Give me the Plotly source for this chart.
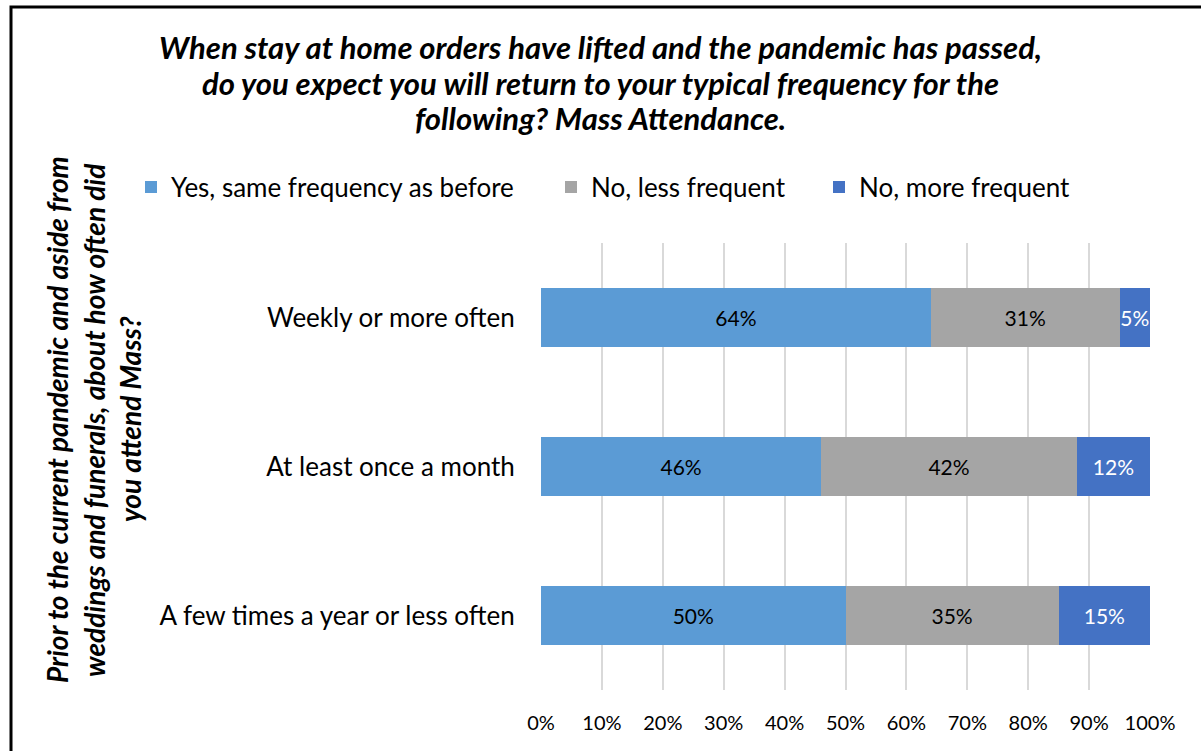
import plotly.graph_objects as go

categories = ["Weekly or more often", "At least once a month", "A few times a year or less often"]
series_names = ["Yes, same frequency as before", "No, less frequent", "No, more frequent"]
yes_same = [64, 46, 50]
no_less = [31, 42, 35]
no_more = [5, 12, 15]
values = [yes_same, no_less, no_more]
colors = ["#5B9BD5", "#A5A5A5", "#4472C4"]
label_colors = ["#000000", "#000000", "#FFFFFF"]
x_ticks = list(range(0, 101, 10))
title_lines = [
    "When stay at home orders have lifted and the pandemic has passed,",
    "do you expect you will return to your typical frequency for the",
    "following? Mass Attendance.",
]
ytitle_lines = [
    "Prior to the current pandemic and aside from",
    "weddings and funerals, about how often did",
    "you attend Mass?",
]

FONT = "Lato, Carlito, Calibri, sans-serif"

L, R, T, B = 541, 51, 243, 61
W, H = 1201, 751
pw, ph = W - L - R, H - T - B


def px_x(p):
    return (p - L) / pw


def px_y(p):
    return (H - B - p) / ph


legend_keys = ["legend", "legend2", "legend3"]
legend_x_px = [131, 551, 819]

fig = go.Figure()
for name, vals, c, lc, lk in zip(series_names, values, colors, label_colors, legend_keys):
    fig.add_trace(go.Bar(
        y=categories, x=vals, name=name, orientation="h",
        marker=dict(color=c, line=dict(width=0)),
        text=[f"{v}%" for v in vals], textposition="inside",
        insidetextanchor="middle", textangle=0,
        textfont=dict(color=lc, size=21, family=FONT),
        width=0.4, hoverinfo="skip", legend=lk, showlegend=True,
    ))

legend_common = dict(
    orientation="h", yanchor="middle", y=px_y(187), xanchor="left",
    font=dict(size=26, family=FONT, color="#000000"), itemwidth=30,
    bgcolor="rgba(0,0,0,0)", visible=True,
)

annotations = []
for line, ypx in zip(title_lines, [47, 83, 118]):
    annotations.append(dict(
        text=f"<b><i>{line}</i></b>", xref="paper", yref="paper",
        x=px_x(600), y=px_y(ypx), xanchor="center", yanchor="middle",
        showarrow=False, font=dict(size=31, family=FONT, color="#000000"),
    ))
for line, xpx in zip(ytitle_lines, [57, 94, 130]):
    annotations.append(dict(
        text=f"<b><i>{line}</i></b>", xref="paper", yref="paper",
        x=px_x(xpx), y=px_y(420), xanchor="center", yanchor="middle",
        textangle=-90, showarrow=False, font=dict(size=28, family=FONT, color="#000000"),
    ))

layout = dict(
    barmode="stack",
    width=W, height=H,
    showlegend=True,
    uniformtext=dict(minsize=21, mode="show"),
    margin=dict(l=L, r=R, t=T, b=B, pad=0, autoexpand=False),
    paper_bgcolor="white", plot_bgcolor="white",
    font=dict(family=FONT, color="#000000"),
    xaxis=dict(
        range=[0, 100], tickvals=x_ticks, ticktext=[f"{v}%" for v in x_ticks],
        showgrid=True, gridcolor="#D9D9D9", gridwidth=2, zeroline=False,
        tickfont=dict(size=20, family=FONT), ticks="outside", ticklen=15,
        tickcolor="rgba(0,0,0,0)", showline=False, automargin=False,
    ),
    yaxis=dict(
        autorange="reversed", tickfont=dict(size=26, family=FONT),
        ticks="outside", ticklen=20, tickcolor="rgba(0,0,0,0)",
        showline=False, showgrid=False, automargin=False,
    ),
    annotations=annotations,
    shapes=[dict(
        type="rect", xref="paper", yref="paper",
        x0=px_x(11), x1=px_x(1220), y0=px_y(7), y1=px_y(780),
        line=dict(color="#000000", width=3), fillcolor="rgba(0,0,0,0)", layer="above",
    )],
)
for lk, lx in zip(legend_keys, legend_x_px):
    layout[lk] = dict(legend_common, x=px_x(lx))

fig.update_layout(**layout)
fig.write_html(
    "out.html",
    config={"displayModeBar": False},
    post_script="document.body.style.margin='0';document.body.style.overflow='hidden';",
)
